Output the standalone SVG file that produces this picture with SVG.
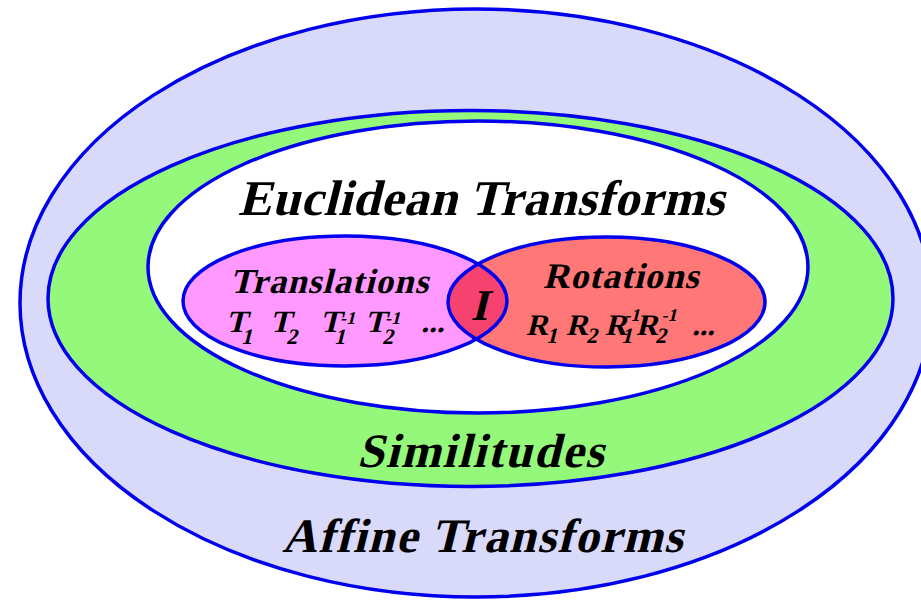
<svg xmlns="http://www.w3.org/2000/svg" width="921" height="608" viewBox="0 0 921 608">
<style>
.ring{stroke:#0000EE;stroke-width:3.5}
text{font-family:"Liberation Serif",serif;font-weight:bold;fill:#000}
</style>
<defs>
<clipPath id="clipPink"><ellipse cx="345" cy="301" rx="162" ry="65"/></clipPath>
</defs>
<rect width="921" height="608" fill="#FFFFFF"/>
<g id="affine">
<ellipse class="ring" cx="476" cy="303" rx="456" ry="294" fill="#D9D9FA"/>
<text transform="translate(282,552) skewX(-14)" x="0" y="0" font-size="48" letter-spacing="1.4">Affine Transforms</text>
</g>
<g id="similitudes">
<ellipse class="ring" cx="470.5" cy="298.5" rx="422.5" ry="188" fill="#94F97A"/>
<text transform="translate(357,467) skewX(-14)" x="0" y="0" font-size="48" letter-spacing="1.7">Similitudes</text>
</g>
<g id="euclidean">
<ellipse class="ring" cx="478" cy="267" rx="330" ry="146" fill="#FFFFFF"/>
<text transform="translate(238,215) skewX(-14)" x="0" y="0" font-size="50" letter-spacing="0.6">Euclidean Transforms</text>
</g>
<g id="translations">
<ellipse cx="345" cy="301" rx="162" ry="65" fill="#FF99FF"/>
</g>
<g id="rotations">
<ellipse cx="606.5" cy="302" rx="158.5" ry="65" fill="#FF7777"/>
</g>
<g id="identity">
<ellipse cx="606.5" cy="302" rx="158.5" ry="65" fill="#F5426E" clip-path="url(#clipPink)"/>
</g>
<g id="outlines">
<ellipse class="ring" cx="345" cy="301" rx="162" ry="65" fill="none"/>
<ellipse class="ring" cx="606.5" cy="302" rx="158.5" ry="65" fill="none"/>
</g>
<g id="translations-text">
<text transform="translate(230,293) skewX(-14)" x="0" y="0" font-size="35" letter-spacing="1.1">Translations</text>
<text transform="translate(0,332) skewX(-14)" font-size="31"><tspan x="226" y="0">T</tspan><tspan font-size="22" x="244" y="12">1</tspan><tspan x="270" y="0">T</tspan><tspan font-size="22" x="289" y="12">2</tspan><tspan x="320" y="0">T</tspan><tspan font-size="18" x="338" y="-8">-1</tspan><tspan font-size="22" x="337" y="12">1</tspan><tspan x="365" y="0">T</tspan><tspan font-size="18" x="383" y="-8">-1</tspan><tspan font-size="22" x="385" y="12">2</tspan><tspan x="421" y="0">...</tspan></text>
</g>
<g id="rotations-text">
<text transform="translate(543,288) skewX(-14)" x="0" y="0" font-size="36" letter-spacing="0.9">Rotations</text>
<text transform="translate(0,335) skewX(-14)" font-size="30"><tspan x="526" y="0">R</tspan><tspan font-size="22" x="548" y="8">1</tspan><tspan x="566" y="0">R</tspan><tspan font-size="22" x="588" y="8">2</tspan><tspan x="605" y="0">R</tspan><tspan font-size="18" x="621" y="-14">-1</tspan><tspan font-size="22" x="623" y="8">1</tspan><tspan x="636" y="0">R</tspan><tspan font-size="18" x="658" y="-14">-1</tspan><tspan font-size="22" x="657" y="8">2</tspan><tspan x="692" y="0">...</tspan></text>
</g>
<g id="identity-text">
<text transform="translate(479,320) skewX(-14)" x="0" y="0" font-size="44" text-anchor="middle">I</text>
</g>
</svg>
